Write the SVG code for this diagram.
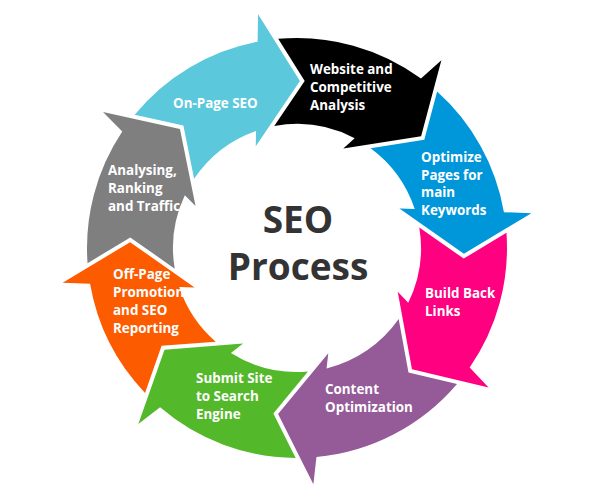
<svg xmlns="http://www.w3.org/2000/svg" width="600" height="500" viewBox="0 0 600 500">
<style>
.lbl{font-family:"Open Sans","Liberation Sans",sans-serif;font-weight:700;font-size:13.4px;fill:#fff}
.title{font-family:"Open Sans","Liberation Sans",sans-serif;font-weight:700;font-size:37px;fill:#333;text-anchor:middle}
</style>
<rect width="600" height="500" fill="#fff"/>
<g id="connectors"></g>
<g id="on-page-seo">
<path fill="#5bc8dc" d="M134.65,114.82 A210 210 0 0 1 257.59,41.73 L258.07,14.29 L299.91,81.03 L255.77,146.27 L256.04,130.96 A124 124 0 0 0 194.11,178.79 L183.36,125.54 Z"/>
<text class="lbl" x="173" y="108">On-Page SEO</text>
</g>
<g id="website-analysis">
<path fill="#000" d="M278.20,38.85 A210 210 0 0 1 420.98,78.51 L441.38,60.14 L421.11,136.26 L343.29,148.46 L354.66,138.22 A124 124 0 0 0 274.24,126.10 L304.69,81.11 Z"/>
<text class="lbl" x="310" y="74">Website and</text>
<text class="lbl" x="310" y="92">Competitive</text>
<text class="lbl" x="310" y="110">Analysis</text>
</g>
<g id="optimize-pages">
<path fill="#0096da" d="M437.14,91.61 A210 210 0 0 1 503.93,212.20 L531.36,213.16 L463.90,253.83 L399.44,208.55 L414.74,209.09 A124 124 0 0 0 370.63,148.23 L424.30,139.81 Z"/>
<text class="lbl" x="421" y="162">Optimize</text>
<text class="lbl" x="421" y="180">Pages for</text>
<text class="lbl" x="421" y="197">main</text>
<text class="lbl" x="421" y="215">Keywords</text>
</g>
<g id="build-back-links">
<path fill="#fe0080" d="M506.45,232.85 A210 210 0 0 1 469.68,367.50 L488.58,387.41 L411.96,369.14 L397.72,291.66 L408.25,302.77 A124 124 0 0 0 419.27,227.38 L463.73,258.61 Z"/>
<text class="lbl" x="425" y="298">Build Back</text>
<text class="lbl" x="425" y="316">Links</text>
</g>
<g id="content-optimization">
<path fill="#955a98" d="M457.01,384.00 A210 210 0 0 1 316.46,457.10 L313.35,484.37 L278.10,413.93 L328.29,353.22 L326.56,368.43 A124 124 0 0 0 398.67,318.99 L408.49,372.43 Z"/>
<text class="lbl" x="325" y="394">Content</text>
<text class="lbl" x="325" y="412">Optimization</text>
</g>
<g id="submit-site">
<path fill="#54b82b" d="M295.67,457.99 A210 210 0 0 1 160.10,407.25 L138.33,423.96 L164.51,349.66 L243.05,343.60 L230.90,352.92 A124 124 0 0 0 307.97,371.52 L273.35,413.39 Z"/>
<text class="lbl" x="196" y="383">Submit Site</text>
<text class="lbl" x="196" y="401">to Search</text>
<text class="lbl" x="196" y="419">Engine</text>
</g>
<g id="off-page-promotion">
<path fill="#fd5b00" d="M145.02,392.91 A210 210 0 0 1 90.07,283.80 L62.64,282.84 L130.10,242.17 L194.56,287.45 L179.26,286.92 A124 124 0 0 0 215.77,341.69 L161.60,345.87 Z"/>
<text class="lbl" x="113" y="279">Off-Page</text>
<text class="lbl" x="113" y="297">Promotion</text>
<text class="lbl" x="113" y="315">and SEO</text>
<text class="lbl" x="113" y="333">Reporting</text>
</g>
<g id="analysing-ranking">
<path fill="#7f7f7f" d="M87.55,263.15 A210 210 0 0 1 122.26,131.53 L103.02,111.95 L179.95,128.89 L195.54,206.10 L184.81,195.18 A124 124 0 0 0 174.73,268.63 L130.27,237.40 Z"/>
<text class="lbl" x="108" y="175">Analysing,</text>
<text class="lbl" x="108" y="193">Ranking</text>
<text class="lbl" x="108" y="211">and Traffic</text>
</g>
<g id="center-title">
<text class="title" x="298" y="233">SEO</text>
<text class="title" x="298" y="280">Process</text>
</g>
</svg>
